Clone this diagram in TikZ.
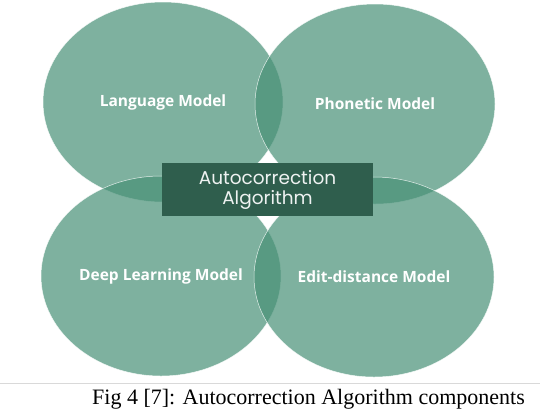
\documentclass[tikz,border=0pt]{standalone}
\usepackage{fontspec}
\setmainfont{Liberation Serif}
\newfontfamily\modelfont{Open Sans}
\newfontfamily\algofont{Poppins}
\usetikzlibrary{shapes.geometric,positioning}
\definecolor{sagegreen}{RGB}{71,144,118}
\definecolor{pinegreen}{HTML}{2F5E4D}

\begin{document}
\begin{tikzpicture}[
x=1pt,y=-1pt,
model/.style={ellipse,minimum width=240pt,minimum height=200pt,inner sep=0pt,
fill=sagegreen,fill opacity=0.7,text opacity=1,draw=white,draw opacity=0.8,
line width=0.5pt,text=white,font=\modelfont\bfseries\fontsize{15.5}{18}\selectfont},
core/.style={fill=pinegreen,minimum width=211pt,minimum height=53pt,
align=center,text=white!92!pinegreen,
font=\algofont\fontsize{18.5}{20}\selectfont},
caption/.style={font=\fontsize{22}{24}\selectfont,inner sep=0pt}
]
\useasboundingbox (0,0) rectangle (540,410);

\node[model] (language) at (163,102) {Language Model};
\node[model] (phonetic) at (375,104) {Phonetic Model};
\node[model] (deep)     at (161,276) {Deep Learning Model};
\node[model] (edit)     at (374,277) {Edit-distance Model};

\node[core] (algo) at (267.5,189.5) {Autocorrection\\Algorithm};

% caption under a thin rule
\draw[black!15,line width=0.6pt] (0,383) -- (540,383);
\node[caption,anchor=base west] (cap) at (92,404)
{Fig 4 [7]: Autocorrection Algorithm components};
\end{tikzpicture}
\end{document}
